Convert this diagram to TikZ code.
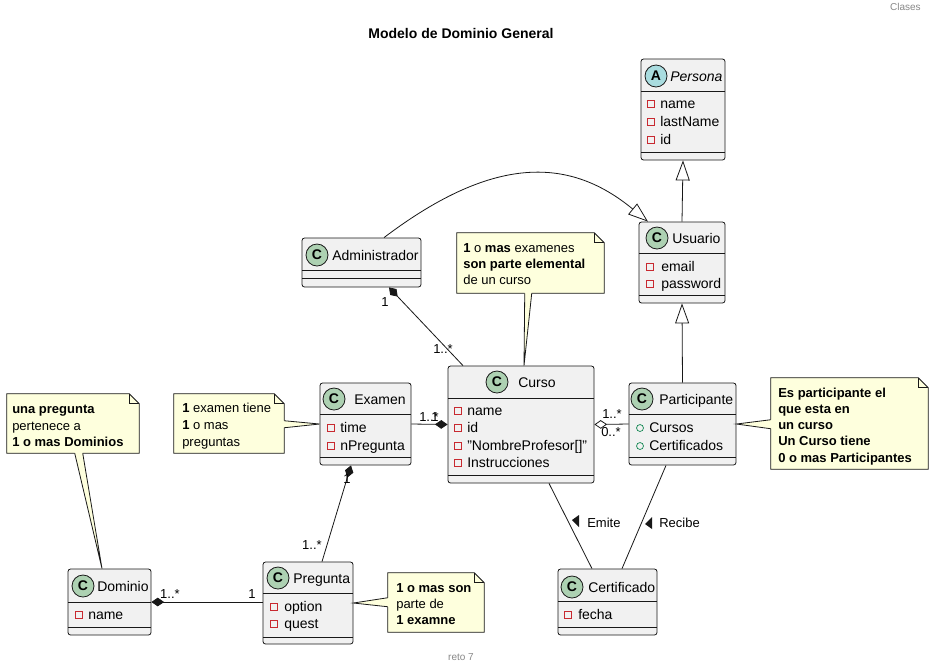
\documentclass[tikz,border=0pt]{standalone}
\usepackage{fontspec}
\setmainfont{Liberation Sans}
\usetikzlibrary{arrows.meta,fit,calc}
\definecolor{boxfill}{HTML}{F1F1F1}
\definecolor{boxline}{HTML}{181818}
\definecolor{notefill}{HTML}{FEFFDD}
\definecolor{cgreen}{HTML}{ADD1B2}
\definecolor{ablue}{HTML}{A9DCDF}
\definecolor{privred}{HTML}{C82930}
\definecolor{pubgreen}{HTML}{038048}
\definecolor{greytxt}{HTML}{888888}
\newcommand\umlbox[7]{\node[classbox, fit={(#2,#3) (#4,#5)}] (#1) {};
  \draw[sepline] (#2,#6) -- (#4,#6);
  \draw[sepline] (#2,#7) -- (#4,#7);}
\newcommand\umlnote[5]{\node[inner sep=0pt, fit={(#2,#3) (#4,#5)}] (#1) {};
  \draw[notebox] (#1.north west) -- ([xshift=-7.5pt]#1.north east) -- ([yshift=-7.5pt]#1.north east) -- (#1.south east) -- (#1.south west) -- cycle;
  \draw[conn] ([xshift=-7.5pt]#1.north east) |- ([yshift=-7.5pt]#1.north east);}
\newcommand\notetail[4]{\fill[notefill] ($#1+#4$) -- #1 -- #3 -- #2 -- ($#2+#4$) -- cycle;
  \draw[conn] #1 -- #3 -- #2;}
\begin{document}
\begin{tikzpicture}[x=0.75pt,y=-0.75pt,
  classbox/.style={draw=boxline, fill=boxfill, rounded corners=1.9pt, inner sep=0pt, line width=0.6pt},
  sepline/.style={draw=boxline, line width=0.6pt},
  hcirc/.style={circle, draw=boxline, line width=0.6pt, minimum size=16.5pt, inner sep=0pt, font=\fontsize{10.5}{12}\selectfont\bfseries},
  cname/.style={anchor=base west, inner sep=0pt, yshift=-3.75pt, font=\fontsize{10.5}{12}\selectfont},
  attr/.style={anchor=base west, inner sep=0pt, yshift=-3.6pt, font=\fontsize{10.5}{12}\selectfont},
  privsq/.style={draw=privred, line width=0.5pt, minimum size=5.2pt, inner sep=0pt},
  pubcirc/.style={circle, draw=pubgreen, line width=0.5pt, minimum size=5.2pt, inner sep=0pt},
  notebox/.style={draw=boxline, fill=notefill, line width=0.6pt},
  nline/.style={anchor=base west, inner sep=0pt, yshift=-3.5pt, font=\fontsize{9.75}{12}\selectfont},
  mult/.style={inner sep=0pt, font=\fontsize{9.75}{12}\selectfont},
  conn/.style={draw=boxline, line width=0.6pt},
  inh/.style={conn, -{Triangle[open, length=15pt, width=10.5pt, fill=white]}},
  comp/.style={conn, {Diamond[length=9.5pt, width=6.5pt]}-},
  aggr/.style={conn, {Diamond[open, length=9.5pt, width=6.5pt, fill=white]}-},
]
\fill[white] (0,0) rectangle (934,669);
\useasboundingbox (0,0) rectangle (934,669);

% header / footer / title
\node[anchor=east, inner sep=0pt, font=\fontsize{7.5}{9}\selectfont, text=greytxt] (hdr) at (921,7) {Clases};
\node[inner sep=0pt, font=\fontsize{10.5}{12}\selectfont\bfseries] (title) at (461,33) {Modelo de Dominio General};
\node[inner sep=0pt, font=\fontsize{7.5}{9}\selectfont, text=greytxt] (ftr) at (461,657) {reto 7};

% notes
\umlnote{nexam}{457}{233}{604}{293}
\umlnote{nexamen}{174}{394}{284}{453}
\umlnote{ndom}{7}{394}{139}{453}
\umlnote{npreg}{388}{573}{484}{632}
\umlnote{npart}{771}{378}{928}{469}

% classes
\umlbox{persona}{641}{59}{725}{160}{91}{152}
\node[hcirc, fill=ablue] (cpersona) at (656,76) {A};
\node[cname] (tpersona) at (670,76) {\itshape Persona};
\node[privsq] (s1) at (651,104) {}; \node[attr] (a1) at (660,104) {name};
\node[privsq] (s2) at (651,122) {}; \node[attr] (a2) at (660,122) {lastName};
\node[privsq] (s3) at (651,140) {}; \node[attr] (a3) at (660,140) {id};

\umlbox{usuario}{639}{222}{725}{303}{253}{295}
\node[hcirc, fill=cgreen] (cusuario) at (657,238) {C};
\node[cname] (tusuario) at (672,238) {Usuario};
\node[privsq] (s4) at (650,267) {}; \node[attr] (a4) at (661,267) {email};
\node[privsq] (s5) at (650,284) {}; \node[attr] (a5) at (661,284) {password};

\umlbox{admin}{302}{238}{421}{287}{270}{278}
\node[hcirc, fill=cgreen] (cadmin) at (317,255) {C};
\node[cname] (tadmin) at (332,255) {Administrador};

\umlbox{curso}{448}{366}{594}{483}{398}{475}
\node[hcirc, fill=cgreen] (ccurso) at (497,382) {C};
\node[cname] (tcurso) at (518,382) {Curso};
\node[privsq] (s6) at (458,411) {}; \node[attr] (a6) at (467,411) {name};
\node[privsq] (s7) at (458,428) {}; \node[attr] (a7) at (467,428) {id};
\node[privsq] (s8) at (458,446) {}; \node[attr] (a8) at (467,446) {"NombreProfesor[]"};
\node[privsq] (s9) at (458,463) {}; \node[attr] (a9) at (467,463) {Instrucciones};

\umlbox{examen}{320}{383}{411}{465}{414}{457}
\node[hcirc, fill=cgreen] (cexamen) at (334,399) {C};
\node[cname] (texamen) at (354,399) {Examen};
\node[privsq] (s10) at (331,428) {}; \node[attr] (a10) at (340,428) {time};
\node[privsq] (s11) at (331,446) {}; \node[attr] (a11) at (340,446) {nPregunta};

\umlbox{participante}{629}{383}{736}{465}{414}{457}
\node[hcirc, fill=cgreen] (cpart) at (642,399) {C};
\node[cname] (tpart) at (659,399) {Participante};
\node[pubcirc] (s12) at (640,428) {}; \node[attr] (a12) at (649,428) {Cursos};
\node[pubcirc] (s13) at (640,446) {}; \node[attr] (a13) at (649,446) {Certificados};

\umlbox{certificado}{558}{569}{657}{635}{601}{627}
\node[hcirc, fill=cgreen] (ccert) at (572,587) {C};
\node[cname] (tcert) at (588,587) {Certificado};
\node[privsq] (s14) at (568,615) {}; \node[attr] (a14) at (578,615) {fecha};

\umlbox{dominio}{68}{569}{151}{635}{602}{627}
\node[hcirc, fill=cgreen] (cdom) at (83,586) {C};
\node[cname] (tdom) at (97,586) {Dominio};
\node[privsq] (s15) at (79,615) {}; \node[attr] (a15) at (88,615) {name};

\umlbox{pregunta}{263}{562}{353}{644}{593}{637}
\node[hcirc, fill=cgreen] (cpreg) at (278,578) {C};
\node[cname] (tpreg) at (293,578) {Pregunta};
\node[privsq] (s16) at (274,607) {}; \node[attr] (a16) at (284,607) {option};
\node[privsq] (s17) at (274,624) {}; \node[attr] (a17) at (284,624) {quest};

% note tails
\notetail{($(nexam.south west)+(68,0)$)}{($(nexam.south west)+(75,0)$)}{($(curso.north)+(3,0)$)}{(0,-1.5)}
\notetail{($(nexamen.north east)+(0,27)$)}{($(nexamen.north east)+(0,34)$)}{(examen.west)}{(-1.5,0)}
\notetail{($(ndom.south west)+(68,0)$)}{($(ndom.south west)+(76,0)$)}{($(dominio.north)+(-7.5,0)$)}{(0,-1.5)}
\notetail{($(npreg.north west)+(0,25)$)}{($(npreg.north west)+(0,34)$)}{(pregunta.east)}{(1.5,0)}
\notetail{($(npart.north west)+(0,42)$)}{($(npart.north west)+(0,51)$)}{(participante.east)}{(1.5,0)}

% note texts
\node[nline] (ne1) at (463,248) {\textbf{1} o \textbf{mas} examenes};
\node[nline] (ne2) at (463,264) {\textbf{son parte elemental}};
\node[nline] (ne3) at (463,280) {de un curso};
\node[nline] (nx1) at (182,408) {\textbf{1} examen tiene};
\node[nline] (nx2) at (182,425) {\textbf{1} o mas};
\node[nline] (nx3) at (182,442) {preguntas};
\node[nline] (nd1) at (12,409) {\textbf{una pregunta}};
\node[nline] (nd2) at (12,426) {pertenece a};
\node[nline] (nd3) at (12,442) {\textbf{1 o mas Dominios}};
\node[nline] (np1) at (396,588) {\textbf{1 o mas son}};
\node[nline] (np2) at (396,604) {parte de};
\node[nline] (np3) at (396,620) {\textbf{1 examne}};
\node[nline] (nq1) at (778,393) {\textbf{Es participante el}};
\node[nline] (nq2) at (778,409) {\textbf{que esta en}};
\node[nline] (nq3) at (778,425) {\textbf{un curso}};
\node[nline] (nq4) at (778,441) {\textbf{Un Curso tiene}};
\node[nline] (nq5) at (778,458) {\textbf{0 o mas Participantes}};

% connectors
\draw[inh] (usuario.north) -- (persona.south);
\draw[inh] (participante.north) -- (usuario.south);
\draw[inh] ($(admin.north)+(22.5,0)$) .. controls (497,152) and (572,159) .. ($(usuario.north)+(-34,0)$);
\draw[comp] ($(admin.south)+(27.5,0)$) -- ($(curso.north)+(-58,0)$);
\draw[comp] (curso.west) -- (examen.east);
\draw[aggr] (curso.east) -- (participante.west);
\draw[comp] ($(examen.south)+(-14.5,0)$) -- ($(pregunta.north)+(14,0)$);
\draw[comp] (dominio.east) -- (pregunta.west |- dominio.east);
\draw[conn] ($(curso.south)+(28,0)$) -- ($(certificado.north)+(-15.5,0)$);
\draw[conn] ($(participante.south)+(-16.5,0)$) -- ($(certificado.north)+(14.5,0)$);

% multiplicities
\node[mult] (m1) at (385,302) {1};
\node[mult] (m2) at (443,349) {1..*};
\node[mult] (m3) at (429,417) {1..*};
\node[mult] (m4) at (435,417) {1};
\node[mult] (m5) at (612,414) {1..*};
\node[mult] (m6) at (611,432) {0..*};
\node[mult] (m7) at (347,479) {1};
\node[mult] (m8) at (312,545) {1..*};
\node[mult] (m9) at (170,594) {1..*};
\node[mult] (m10) at (252,594) {1};

% association labels
\fill[boxline] (572,520) -- (579,515) -- (579,527) -- cycle;
\node[nline] (lemite) at (587,523) {Emite};
\fill[boxline] (645,524) -- (652,517) -- (652,529) -- cycle;
\node[nline] (lrecibe) at (659,523) {Recibe};
\end{tikzpicture}
\end{document}
